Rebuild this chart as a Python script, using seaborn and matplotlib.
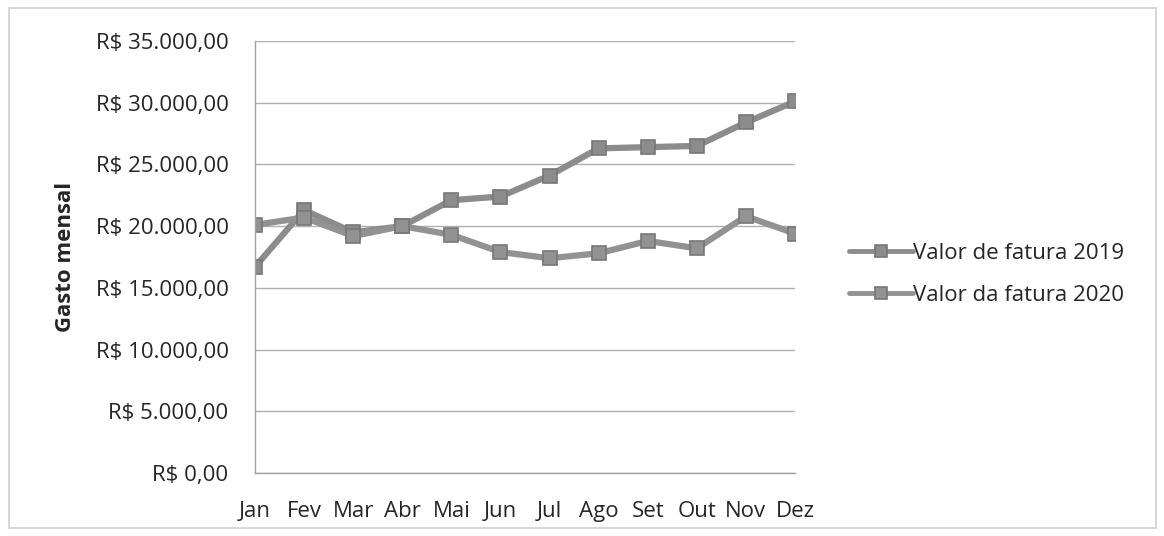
import matplotlib
matplotlib.use("Agg")
import matplotlib.pyplot as plt
import seaborn as sns
import pandas as pd
from matplotlib.patches import Rectangle
from matplotlib.ticker import FuncFormatter

months = ["Jan", "Fev", "Mar", "Abr", "Mai", "Jun", "Jul", "Ago", "Set", "Out", "Nov", "Dez"]
series_names = ["Valor de fatura 2019", "Valor da fatura 2020"]
valor_2019 = [16700, 21300, 19500, 20000, 22100, 22400, 24100, 26300, 26400, 26500, 28400, 30100]
valor_2020 = [20100, 20700, 19200, 20000, 19300, 17900, 17400, 17800, 18800, 18200, 20800, 19400]
y_ticks = [0, 5000, 10000, 15000, 20000, 25000, 30000, 35000]

df = pd.DataFrame({
    "mes": months * 2,
    "idx": list(range(len(months))) * 2,
    "valor": valor_2019 + valor_2020,
    "serie": [series_names[0]] * len(months) + [series_names[1]] * len(months),
})

sns.set_theme(style="white")
plt.rcParams["font.family"] = ["Open Sans", "DejaVu Sans"]

fig = plt.figure(figsize=(11.64, 5.36), dpi=100)
# axes: left x=255, right x=795, top y=41, bottom y=473 (pixels)
ax = fig.add_axes([255 / 1164, 1 - 473 / 536, 540 / 1164, 432 / 536])

gray = "#8c8c8c"
sns.lineplot(data=df, x="idx", y="valor", hue="serie", style="serie",
             palette=[gray, "#929292"], markers=["s", "s"], dashes=False,
             linewidth=4.5, markersize=10, markeredgecolor="#777777",
             markeredgewidth=1.2, ax=ax)

ax.set_xlim(0, len(months) - 1)
ax.set_ylim(0, 35000)
ax.set_xticks(range(len(months)))
ax.set_xticklabels(months)
ax.set_yticks(y_ticks)

def brl(v, pos):
    s = f"{v:,.2f}".replace(",", "X").replace(".", ",").replace("X", ".")
    return "R$ " + s

ax.yaxis.set_major_formatter(FuncFormatter(brl))
ax.tick_params(axis="both", labelsize=16, colors="#262626", length=0)
ax.tick_params(axis="y", pad=19)
ax.tick_params(axis="x", pad=20)
ax.grid(axis="y", color="#b0b0b0", linewidth=1)
ax.set_axisbelow(True)
for side in ["top", "right"]:
    ax.spines[side].set_visible(False)
for side in ["left", "bottom"]:
    ax.spines[side].set_color("#a0a0a0")
    ax.spines[side].set_linewidth(1)

ax.set_xlabel("")
ax.set_ylabel("Gasto mensal", fontsize=16, fontweight="bold", color="#262626")
ax.yaxis.set_label_coords((76 - 255) / 540, 0.5)

leg = ax.legend(loc="center left", bbox_to_anchor=(1.063, 0.46), frameon=False,
                fontsize=16, handlelength=2.9, handletextpad=0.0, labelspacing=0.95)
for t in leg.get_texts():
    t.set_color("#262626")
for h in leg.get_lines():
    h.set_linewidth(3.5)
    h.set_markersize(8)

fig.patches.append(Rectangle((0.008, 0.015), 0.985, 0.97, transform=fig.transFigure,
                             fill=False, edgecolor="#d0d0d0", linewidth=1.2))

fig.savefig("out.png", dpi=100, facecolor="white")
